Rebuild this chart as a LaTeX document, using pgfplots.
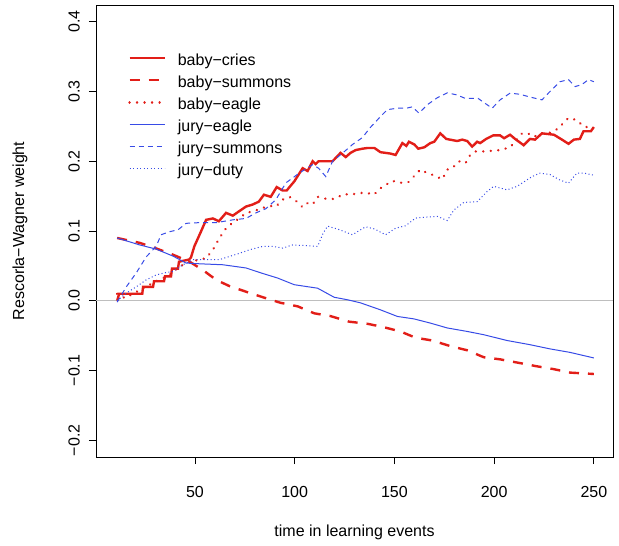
\documentclass[border=0pt]{standalone}
\usepackage{fontspec}
\setmainfont{Liberation Sans}
\usepackage{pgfplots}
\pgfplotsset{compat=1.18}

\definecolor{rred}{RGB}{226,30,24}
\definecolor{rblue}{RGB}{55,75,230}
\definecolor{zline}{RGB}{190,190,190}

\begin{document}
\begin{tikzpicture}[font=\fontsize{16bp}{19bp}\selectfont]
\useasboundingbox (-96bp,-89bp) rectangle (523bp,457bp);
\begin{axis}[
  scale only axis,
  width=517bp, height=452bp,
  xmin=0.4, xmax=259.6,
  ymin=-0.224, ymax=0.424,
  axis line style={line width=0.8bp},
  tick style={black, line width=0.8bp},
  tick align=outside,
  major tick length=7bp,
  xtick={50,100,150,200,250},
  xticklabels={50,100,150,200,250},
  ytick={-0.2,-0.1,0,0.1,0.2,0.3,0.4},
  yticklabels={−0.2,−0.1,0.0,0.1,0.2,0.3,0.4},
  xtick pos=bottom, ytick pos=left,
  xticklabel style={anchor=north, inner sep=0pt},
  yticklabel style={rotate=90, anchor=south, inner sep=0pt},
  xticklabel shift=22bp,
  yticklabel shift=9bp,
  xlabel={time in learning events},
  ylabel={Rescorla−Wagner weight},
  xlabel style={at={(axis description cs:0.5,-0.167)}, anchor=center},
  ylabel style={at={(axis description cs:-0.147,0.5)}, anchor=center, rotate=0},
  legend cell align=left,
  legend image code/.code={\draw[#1] (0bp,0.28em) -- (35bp,0.28em);},
  legend style={draw=none, fill=none, inner sep=0pt,
    at={(0.062,0.892)}, anchor=north west,
    column sep=12bp, row sep=8bp,
    nodes={inner sep=0pt, text height=11bp, text depth=3bp}},
]

\addplot[zline, line width=0.8bp, forget plot] coordinates {(0.4,0) (259.6,0)};

% baby-cries
\addplot[rred, line width=2.4bp] coordinates {
(11,0.0) (12,0.01) (23.6,0.01) (24,0.02) (29,0.02) (29.5,0.028) (34.5,0.028)
(35,0.035) (38,0.035) (38.5,0.046) (41.5,0.046) (42,0.056) (47,0.059) (48,0.062)
(49.7,0.078) (53,0.099) (55.6,0.116) (59,0.118) (62,0.114) (65.6,0.126) (69,0.122)
(72,0.128) (75.6,0.135) (79,0.138) (82,0.142) (84.6,0.152) (88,0.149) (91,0.163)
(94,0.158) (96,0.158) (98,0.165) (99.8,0.171) (104,0.19) (106.5,0.186) (109,0.2)
(110.5,0.196) (112,0.2) (119,0.2) (123,0.212) (125.6,0.206) (128,0.212) (130.6,0.216)
(134,0.218) (136.5,0.219) (140,0.219) (143,0.213) (148,0.211) (150.6,0.209) (154,0.226)
(156,0.222) (157.3,0.228) (160,0.224) (162,0.218) (165,0.22) (168,0.226) (170,0.228)
(173,0.24) (176,0.232) (181.5,0.229) (184,0.231) (186.5,0.229) (189,0.221) (191.5,0.228)
(193,0.226) (196,0.232) (199.5,0.237) (203,0.237) (205,0.233) (208,0.238) (210.5,0.232)
(214.8,0.223) (218,0.232) (220.5,0.231) (224,0.24) (230,0.238) (234,0.231) (237.3,0.225)
(240,0.231) (243,0.232) (244.8,0.243) (248.5,0.243) (250,0.249)};
\addlegendentry{baby−cries}

% baby-summons
\addplot[rred, line width=2.4bp, dash pattern=on 10bp off 9bp] coordinates {
(11,0.09) (22.3,0.083) (30.6,0.075) (39,0.066) (47.3,0.056) (54,0.044) (60.6,0.03)
(67.3,0.021) (75.6,0.013) (83,0.006) (93,-0.003) (101.5,-0.008) (109.8,-0.018)
(118,-0.022) (127.3,-0.03) (136.5,-0.033) (144.8,-0.038) (153,-0.044) (160.6,-0.053)
(169,-0.057) (178,-0.065) (186.5,-0.071) (194.8,-0.081) (203,-0.084) (212.3,-0.089)
(221.5,-0.094) (229.8,-0.098) (238,-0.103) (250,-0.105)};
\addlegendentry{baby−summons}

% baby-eagle
\addplot[rred, line width=2.6bp, line cap=round, dash pattern=on 0.01bp off 7.5bp] coordinates {
(11,0.01) (14.8,0.004) (19,0.01) (24,0.018) (30.6,0.028) (37.3,0.037) (42.3,0.049)
(47.3,0.056) (52.3,0.059) (55.6,0.061) (59,0.073) (62.3,0.09) (65.6,0.104) (69.8,0.114)
(72.3,0.118) (75.6,0.126) (79,0.128) (84,0.133) (87.3,0.136) (90.6,0.135) (94,0.145)
(97.3,0.149) (100,0.145) (104,0.134) (106.5,0.14) (109,0.138) (111.5,0.149) (116,0.146)
(119.8,0.146) (124.8,0.153) (128,0.152) (131.5,0.154) (135.6,0.155) (139.8,0.152)
(142.3,0.16) (145.6,0.166) (149,0.172) (152.3,0.169) (157,0.17) (163,0.188) (166.5,0.183)
(170.6,0.179) (174,0.174) (176.5,0.188) (179,0.19) (182.3,0.2) (185.6,0.197) (188,0.209)
(190.6,0.214) (194,0.214) (199,0.215) (203,0.216) (208,0.22) (214,0.24) (217,0.24)
(219.8,0.235) (224,0.24) (228,0.241) (232.3,0.247) (235,0.256) (237.3,0.262) (241.5,0.259)
(244.8,0.25) (250,0.247)};
\addlegendentry{baby−eagle}

% jury-eagle
\addplot[rblue, line width=1bp] coordinates {
(11,0.09) (22.3,0.08) (30.6,0.074) (39,0.064) (45.6,0.054) (52.3,0.053) (64,0.0516)
(75.6,0.047) (83,0.04) (91.5,0.0325) (99.8,0.023) (111.5,0.018) (119.8,0.005)
(126.5,0.0014) (133,-0.003) (143,-0.013) (151.5,-0.0225) (159.8,-0.026) (168,-0.032)
(176.5,-0.039) (186.5,-0.044) (194.8,-0.0487) (206.5,-0.057) (218,-0.063) (228,-0.069)
(238,-0.074) (250,-0.082)};
\addlegendentry{jury−eagle}

% jury-summons
\addplot[rblue, line width=1bp, dash pattern=on 5bp off 4bp] coordinates {
(11,-0.002) (15.6,0.02) (20.6,0.04) (25.6,0.063) (30.6,0.078) (33,0.0946) (37.3,0.099)
(41.5,0.1017) (45.6,0.111) (52.3,0.112) (60.6,0.112) (69,0.116) (75.6,0.118) (80.6,0.126)
(85.6,0.132) (90.6,0.145) (95.6,0.169) (102.3,0.183) (109,0.195) (112,0.19) (115.6,0.178)
(119,0.2) (124,0.2116) (129,0.224) (134,0.234) (137.8,0.248) (143,0.264) (146.5,0.274)
(151.5,0.276) (156,0.276) (159,0.278) (162.3,0.269) (166.5,0.281) (171.5,0.291)
(176.5,0.298) (181.5,0.295) (185.6,0.29) (192,0.29) (196.5,0.281) (199,0.276) (203,0.288)
(208,0.2976) (213,0.296) (218,0.292) (224,0.288) (228,0.3) (233,0.314) (237.3,0.317)
(240.6,0.307) (244,0.31) (247.3,0.317) (250,0.314)};
\addlegendentry{jury−summons}

% jury-duty
\addplot[rblue, line width=1bp, dash pattern=on 1bp off 2.5bp] coordinates {
(11,0.0) (15.6,0.011) (20.6,0.02) (25.6,0.03) (30.6,0.037) (34.8,0.04) (39,0.042)
(44,0.0516) (49,0.059) (55.6,0.059) (62.3,0.059) (67.3,0.0635) (72.3,0.068) (77.3,0.073)
(84,0.078) (89,0.078) (94,0.0755) (99,0.08) (106,0.079) (111.5,0.078) (114.3,0.097)
(116.5,0.107) (122.3,0.102) (129,0.0946) (132,0.1) (135.6,0.106) (140,0.103) (145.6,0.0946)
(150.6,0.104) (155.6,0.1075) (160.6,0.1185) (166,0.12) (171.5,0.121) (176.5,0.115)
(179.8,0.13) (184.8,0.141) (191.5,0.142) (196.5,0.1566) (199.8,0.164) (206.5,0.159)
(211.5,0.164) (219,0.178) (223,0.183) (228,0.181) (233,0.173) (237.3,0.1686) (241.5,0.183)
(245,0.183) (250,0.18)};
\addlegendentry{jury−duty}

\end{axis}
\end{tikzpicture}
\end{document}
